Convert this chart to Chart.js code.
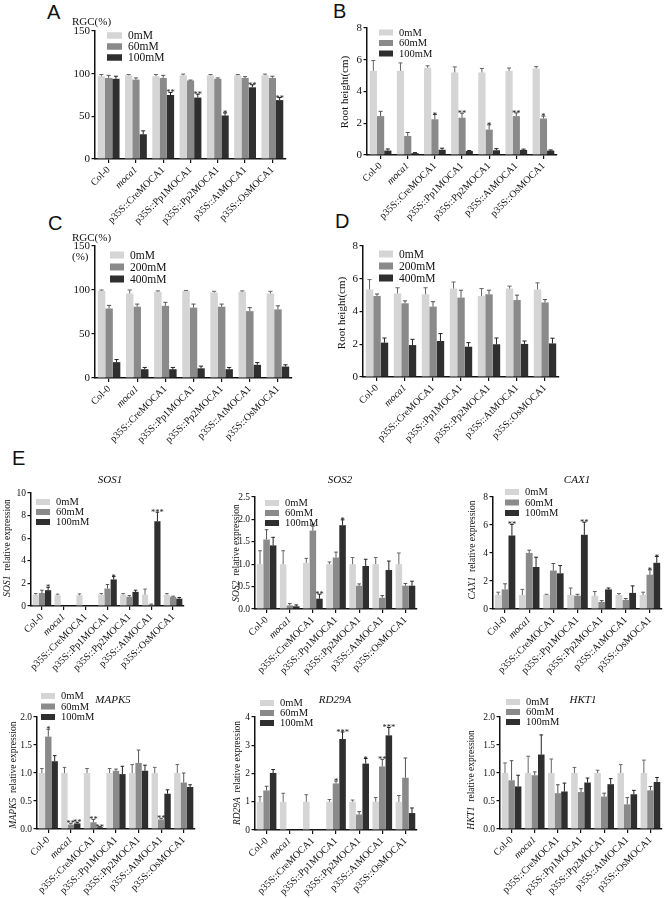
<!DOCTYPE html>
<html><head><meta charset="utf-8">
<script src="https://cdn.jsdelivr.net/npm/chart.js@4.4.1/dist/chart.umd.min.js"></script>
<style>
html,body{margin:0;padding:0;background:#fff;}
#wrap{position:relative;width:672px;height:898px;overflow:hidden;background:#fff;}
canvas{position:absolute;}
.lbl{position:absolute;font-family:'Liberation Sans',Arial,sans-serif;font-size:20px;line-height:20px;color:#111;}
</style></head><body><div id="wrap">
<div class="lbl" style="left:47px;top:2px">A</div>
<div class="lbl" style="left:333px;top:1px">B</div>
<div class="lbl" style="left:48px;top:213px">C</div>
<div class="lbl" style="left:335px;top:211px">D</div>
<div class="lbl" style="left:12px;top:448px">E</div>
</div>
<script>
// ---------- categories & legend labels ----------
const genotypes = ["Col-0","moca1","p35S::CreMOCA1","p35S::Pp1MOCA1","p35S::Pp2MOCA1","p35S::AtMOCA1","p35S::OsMOCA1"];
const saltLevels = ["0mM","60mM","100mM"];
const mannitolLevels = ["0mM","200mM","400mM"];

// ---------- A: RGC(%) under NaCl ----------
const rgcNa0 = [97,98,97,98,98,98,98];     const rgcNa0Err = [2,1,2,1.5,1,1,1.5];
const rgcNa60 = [95,93,95,92,94,95,95];    const rgcNa60Err = [3,2,3,0.5,1,1.5,2];
const rgcNa100 = [94,29,75,72,51,84,69];   const rgcNa100Err = [3,4,3,4,3,3,3];
const rgcNa100Stars = ["","","**","**","*","**","**"];

// ---------- B: Root height under NaCl ----------
const rootNa0 = [5.3,5.3,5.5,5.2,5.2,5.3,5.45];   const rootNa0Err = [0.65,0.5,0.12,0.35,0.25,0.18,0.12];
const rootNa60 = [2.45,1.2,2.25,2.35,1.6,2.45,2.3]; const rootNa60Err = [0.3,0.22,0.3,0.28,0.3,0.2,0.15];
const rootNa100 = [0.28,0.12,0.33,0.25,0.3,0.32,0.28]; const rootNa100Err = [0.1,0.03,0.1,0.03,0.1,0.05,0.04];
const rootNa60Stars = ["","","*","**","*","**","*"];

// ---------- C: RGC(%) under mannitol ----------
const rgcMa0 = [99,96,98,99,97,98,96];     const rgcMa0Err = [1,4,1,0.5,1.5,1,2.5];
const rgcMa200 = [79,81,82,80,81,76,78];   const rgcMa200Err = [3.5,3,4,4,3,4,4];
const rgcMa400 = [18,10,10,11,10,15,13];   const rgcMa400Err = [3,2,2,2.5,2,2.5,2];

// ---------- D: Root height under mannitol ----------
const rootMa0 = [5.35,5.1,5.05,5.4,4.95,5.4,5.35];  const rootMa0Err = [0.6,0.35,0.4,0.4,0.45,0.15,0.4];
const rootMa200 = [4.95,4.5,4.3,4.85,5.05,4.7,4.55]; const rootMa200Err = [0.12,0.15,0.3,0.45,0.25,0.3,0.18];
const rootMa400 = [2.1,1.95,2.2,1.85,2.0,2.02,2.05]; const rootMa400Err = [0.28,0.35,0.45,0.25,0.38,0.18,0.32];

// ---------- E: relative expression ----------
const sos1_0 = [1.0,0.95,0.95,1.0,1.0,1.0,1.0];   const sos1_0Err = [0.1,0.1,0.12,0.1,0.1,0.5,0.1];
const sos1_60 = [1.15,0,0,1.55,0.82,0.12,0.82];  const sos1_60Err = [0.25,0,0,0.35,0.1,0.05,0.05];
const sos1_100 = [1.4,0,0,2.35,1.25,7.5,0.65];   const sos1_100Err = [0.25,0,0,0.25,0.15,0.8,0.1];
const sos1_100Stars = ["*","","","*","","***",""];

const sos2_0 = [1.0,1.0,1.03,1.0,1.0,1.0,1.0];   const sos2_0Err = [0.3,0.3,0.1,0.05,0.15,0.15,0.25];
const sos2_60 = [1.55,0.08,1.75,1.15,0.52,0.25,0.52]; const sos2_60Err = [0.22,0.04,0.1,0.12,0.04,0.05,0.05];
const sos2_100 = [1.42,0.06,0.23,1.87,0.96,0.87,0.52]; const sos2_100Err = [0.18,0.03,0.1,0.12,0.15,0.2,0.1];
const sos2_60Stars = ["","","*","","","",""];
const sos2_100Stars = ["","","**","*","","",""];

const cax1_0 = [1.0,1.0,1.0,1.0,0.95,1.0,1.0];   const cax1_0Err = [0.2,0.4,0.05,0.5,0.3,0.1,0.2];
const cax1_60 = [1.4,4.0,2.75,0.95,0.5,0.65,2.45]; const cax1_60Err = [0.4,0.2,0.5,0.1,0.1,0.1,0.35];
const cax1_100 = [5.25,3.0,2.55,5.3,1.4,1.15,3.3]; const cax1_100Err = [0.8,0.7,0.55,0.9,0.1,0.5,0.45];
const cax1_60Stars = ["","","","","","","*"];
const cax1_100Stars = ["**","","","**","","","*"];

const mapk5_0 = [1.0,1.0,1.0,1.0,1.0,1.0,1.0];   const mapk5_0Err = [0.08,0.1,0.08,0.08,0.15,0.1,0.15];
const mapk5_60 = [1.65,0.08,0.12,1.04,1.18,0.17,0.83]; const mapk5_60Err = [0.13,0.02,0.05,0.03,0.23,0.02,0.17];
const mapk5_100 = [1.21,0.1,0.03,0.98,1.04,0.63,0.75]; const mapk5_100Err = [0.1,0.02,0.01,0.14,0.1,0.07,0.04];
const mapk5_60Stars = ["*","**","**","","","**",""];
const mapk5_100Stars = ["","**","**","","","",""];

const rd29a_0 = [1.0,1.0,1.0,1.0,1.0,1.0,1.0];   const rd29a_0Err = [0.18,0.3,0.25,0.08,0.06,0.15,0.22];
const rd29a_60 = [1.4,0,0.02,1.65,0.55,2.25,1.85]; const rd29a_60Err = [0.15,0,0,0.08,0.1,0.25,0.7];
const rd29a_100 = [2.02,0,0,3.22,2.35,3.35,0.6];  const rd29a_100Err = [0.12,0,0,0.25,0.18,0.28,0.18];
const rd29a_60Stars = ["","","","*","","**",""];
const rd29a_100Stars = ["","","","***","*","***",""];

const hkt1_0 = [1.0,1.0,1.0,1.0,1.0,1.0,1.0];    const hkt1_0Err = [0.18,0.3,0.25,0.1,0.05,0.15,0.23];
const hkt1_60 = [0.87,0.96,0.64,0.66,0.58,0.44,0.69]; const hkt1_60Err = [0.35,0.06,0.15,0.06,0.06,0.12,0.07];
const hkt1_100 = [0.76,1.33,0.67,0.83,0.8,0.62,0.84]; const hkt1_100Err = [0.2,0.35,0.15,0.08,0.1,0.07,0.08];

// ---------- styling ----------
const COLORS = ['#d5d5d5','#8a8a8a','#2f2f2f'];
const ERRCOL = ['#666','#555','#222'];
const SERIF = "'Liberation Serif','Times New Roman',serif";
Chart.defaults.font.family = SERIF;

function ser(labels, vals, errs, stars){
  return labels.map((l,i)=>({label:l, data:vals[i], err:errs[i], stars:(stars&&stars[i])||null}));
}

const panels = [
 {L:95,T:31,R:286,B:159, max:150, step:50, dec:0, cat:0.8,
  series: ser(saltLevels,[rgcNa0,rgcNa60,rgcNa100],[rgcNa0Err,rgcNa60Err,rgcNa100Err],[null,null,rgcNa100Stars]),
  legend:{x:107,y:35.5,dy:11,fs:11.5,bw:15,bh:6.5},
  texts:[{t:'RGC(%)',x:72,y:22,fs:11}], tickFs:11},
 {L:367,T:28,R:557,B:155, max:8, step:2, dec:0, cat:0.8,
  series: ser(saltLevels,[rootNa0,rootNa60,rootNa100],[rootNa0Err,rootNa60Err,rootNa100Err],[null,rootNa60Stars,null]),
  legend:{x:379,y:32.5,dy:10.5,fs:10.5,bw:14,bh:6},
  ytitle:{x:345,y:92,parts:[['Root height(cm)','normal']],fs:11}, tickFs:11},
 {L:95,T:246,R:292,B:378, max:150, step:50, dec:0, cat:0.8,
  series: ser(mannitolLevels,[rgcMa0,rgcMa200,rgcMa400],[rgcMa0Err,rgcMa200Err,rgcMa400Err]),
  legend:{x:110,y:255,dy:12,fs:11.5,bw:14,bh:7},
  texts:[{t:'RGC(%)',x:72,y:238,fs:11},{t:'(%)',x:72,y:257,fs:11}], tickFs:11},
 {L:363,T:246,R:559,B:377, max:8, step:2, dec:0, cat:0.8,
  series: ser(mannitolLevels,[rootMa0,rootMa200,rootMa400],[rootMa0Err,rootMa200Err,rootMa400Err]),
  legend:{x:379,y:254,dy:12,fs:11.5,bw:14,bh:7},
  ytitle:{x:342,y:313,parts:[['Root height(cm)','normal']],fs:11}, tickFs:11},
 {L:31,T:493,R:184,B:606, max:10, step:2, dec:0, cat:0.85,
  series: ser(saltLevels,[sos1_0,sos1_60,sos1_100],[sos1_0Err,sos1_60Err,sos1_100Err],[null,null,sos1_100Stars]),
  legend:{x:36,y:502,dy:10,fs:10.5,bw:14,bh:6},
  title:{t:'SOS1',x:110,y:480},
  ytitle:{x:7,y:548,parts:[['SOS1','italic'],['  relative expression','normal']],fs:9.5}, tickFs:9.5},
 {L:255,T:497,R:417,B:609, max:2.5, step:0.5, dec:1, cat:0.85,
  series: ser(saltLevels,[sos2_0,sos2_60,sos2_100],[sos2_0Err,sos2_60Err,sos2_100Err],[null,sos2_60Stars,sos2_100Stars]),
  legend:{x:265,y:503,dy:10,fs:10.5,bw:14,bh:6},
  title:{t:'SOS2',x:340,y:480},
  ytitle:{x:236,y:553,parts:[['SOS2','italic'],['  relative expression','normal']],fs:9.5}, tickFs:9.5},
 {L:493,T:497,R:662,B:609, max:8, step:2, dec:0, cat:0.85,
  series: ser(saltLevels,[cax1_0,cax1_60,cax1_100],[cax1_0Err,cax1_60Err,cax1_100Err],[null,cax1_60Stars,cax1_100Stars]),
  legend:{x:505,y:492,dy:10.5,fs:10.5,bw:14,bh:6},
  title:{t:'CAX1',x:577,y:480},
  ytitle:{x:472,y:550,parts:[['CAX1','italic'],['  relative expression','normal']],fs:9.5}, tickFs:9.5},
 {L:37,T:717,R:195,B:829, max:2.0, step:0.5, dec:1, cat:0.85,
  series: ser(saltLevels,[mapk5_0,mapk5_60,mapk5_100],[mapk5_0Err,mapk5_60Err,mapk5_100Err],[null,mapk5_60Stars,mapk5_100Stars]),
  legend:{x:41,y:696,dy:10.5,fs:10.5,bw:14,bh:6},
  title:{t:'MAPK5',x:113,y:700},
  ytitle:{x:13,y:775,parts:[['MAPK5','italic'],['  relative expression','normal']],fs:9.5}, tickFs:9.5},
 {L:255,T:717,R:417,B:830, max:4, step:1, dec:0, cat:0.85,
  series: ser(saltLevels,[rd29a_0,rd29a_60,rd29a_100],[rd29a_0Err,rd29a_60Err,rd29a_100Err],[null,rd29a_60Stars,rd29a_100Stars]),
  legend:{x:260,y:703,dy:10,fs:10.5,bw:14,bh:6},
  title:{t:'RD29A',x:335,y:700},
  ytitle:{x:237,y:773,parts:[['RD29A','italic'],['  relative expression','normal']],fs:9.5}, tickFs:9.5},
 {L:500,T:717,R:662,B:829, max:2.0, step:0.5, dec:1, cat:0.85,
  series: ser(saltLevels,[hkt1_0,hkt1_60,hkt1_100],[hkt1_0Err,hkt1_60Err,hkt1_100Err]),
  legend:{x:506,y:702,dy:10,fs:10.5,bw:14,bh:6},
  title:{t:'HKT1',x:583,y:700},
  ytitle:{x:471,y:780,parts:[['HKT1','italic'],['  relative expression','normal']],fs:9.5}, tickFs:9.5}
];

const annot = {
  id:'annot',
  afterDatasetsDraw(chart){
    const ctx = chart.ctx; const ys = chart.scales.y;
    chart.data.datasets.forEach((ds,di)=>{
      const meta = chart.getDatasetMeta(di);
      meta.data.forEach((bar,i)=>{
        const v = ds.data[i], e = ds.err[i];
        const yv = ys.getPixelForValue(v), yt = ys.getPixelForValue(v+e);
        if (e>0){
          ctx.save(); ctx.strokeStyle = ERRCOL[di]; ctx.lineWidth = 1;
          const cw = bar.width*0.28;
          ctx.beginPath(); ctx.moveTo(bar.x, yv); ctx.lineTo(bar.x, yt);
          ctx.moveTo(bar.x-cw, yt); ctx.lineTo(bar.x+cw, yt); ctx.stroke(); ctx.restore();
        }
        const s = ds.stars && ds.stars[i];
        if (s){
          ctx.save(); ctx.fillStyle='#111'; ctx.font = "8.5px "+SERIF;
          ctx.textAlign='center'; ctx.textBaseline='alphabetic';
          ctx.fillText(s, bar.x, yt+3); ctx.restore();
        }
      });
    });
  },
  afterDraw(chart){
    const p = chart.options.plugins.annot; const ctx = chart.ctx;
    ctx.save(); ctx.translate(-p.cl, -p.ct);
    const lg = p.legend;
    chart.data.datasets.forEach((ds,di)=>{
      const y = lg.y + di*lg.dy;
      ctx.fillStyle = COLORS[di]; ctx.fillRect(lg.x, y-lg.bh/2, lg.bw, lg.bh);
      ctx.fillStyle = '#111'; ctx.font = lg.fs+"px "+SERIF; ctx.textAlign='left'; ctx.textBaseline='middle';
      ctx.fillText(ds.label, lg.x+lg.bw+6, y+0.5);
    });
    if (p.title){
      ctx.fillStyle='#111'; ctx.font = "italic 11px "+SERIF; ctx.textAlign='center'; ctx.textBaseline='middle';
      ctx.fillText(p.title.t, p.title.x, p.title.y);
    }
    (p.texts||[]).forEach(t=>{
      ctx.fillStyle='#111'; ctx.font = t.fs+"px "+SERIF; ctx.textAlign='left'; ctx.textBaseline='middle';
      ctx.fillText(t.t, t.x, t.y);
    });
    if (p.ytitle){
      const yt = p.ytitle;
      ctx.save(); ctx.translate(yt.x, yt.y); ctx.rotate(-Math.PI/2);
      ctx.fillStyle='#111'; ctx.textBaseline='middle'; ctx.textAlign='left';
      let tot = 0;
      yt.parts.forEach(pt=>{ ctx.font = (pt[1]==='italic'?'italic ':'')+yt.fs+"px "+SERIF; tot += ctx.measureText(pt[0]).width; });
      let x = -tot/2;
      yt.parts.forEach(pt=>{ ctx.font = (pt[1]==='italic'?'italic ':'')+yt.fs+"px "+SERIF; ctx.fillText(pt[0], x, 0); x += ctx.measureText(pt[0]).width; });
      ctx.restore();
    }
    ctx.restore();
  }
};

const wrap = document.getElementById('wrap');
const WY = 30, HX = 74, PR = 8;
panels.forEach(P=>{
  const cl = Math.max(0, P.L-75), ct = Math.max(0, P.T-45);
  const cw = P.R + PR - cl, ch = P.B + HX - ct;
  const cv = document.createElement('canvas');
  cv.width = cw; cv.height = ch; cv.style.left = cl+'px'; cv.style.top = ct+'px';
  cv.style.width = cw+'px'; cv.style.height = ch+'px';
  wrap.appendChild(cv);
  new Chart(cv.getContext('2d'), {
    type:'bar',
    data:{ labels: genotypes,
      datasets: P.series.map((s,i)=>({label:s.label, data:s.data, err:s.err, stars:s.stars,
        backgroundColor:COLORS[i], borderWidth:0, categoryPercentage:P.cat, barPercentage:1.0})) },
    options:{
      responsive:false, maintainAspectRatio:false, animation:false, devicePixelRatio:1,
      layout:{padding:{left:P.L-cl-WY, top:P.T-ct, right:PR, bottom:0}},
      plugins:{ legend:{display:false}, title:{display:false}, tooltip:{enabled:false},
        annot:{cl:cl, ct:ct, legend:P.legend, title:P.title, texts:P.texts, ytitle:P.ytitle} },
      scales:{
        x:{ offset:true,
          grid:{display:true, drawOnChartArea:false, drawTicks:true, tickLength:4, offset:false, color:'#111', lineWidth:1.2},
          border:{display:true, color:'#111', width:1.5},
          ticks:{autoSkip:false, maxRotation:45, minRotation:45, padding:1, color:'#111',
            font:(c)=>({family:SERIF, size:10, style:(c.index===1?'italic':'normal')})},
          afterFit:(s)=>{ s.height = HX; s.paddingLeft = 0; s.paddingRight = 0; }
        },
        y:{ min:0, max:P.max, beginAtZero:true,
          grid:{display:true, drawOnChartArea:false, drawTicks:true, tickLength:3.5, color:'#111', lineWidth:1.2},
          border:{display:true, color:'#111', width:1.5},
          ticks:{stepSize:P.step, padding:1.5, color:'#111', font:{family:SERIF, size:P.tickFs},
            callback:(v)=>Number(v).toFixed(P.dec)},
          afterFit:(s)=>{ s.width = WY; s.paddingTop = 0; s.paddingBottom = 0; }
        }
      }
    },
    plugins:[annot]
  });
});
</script>
</body></html>
